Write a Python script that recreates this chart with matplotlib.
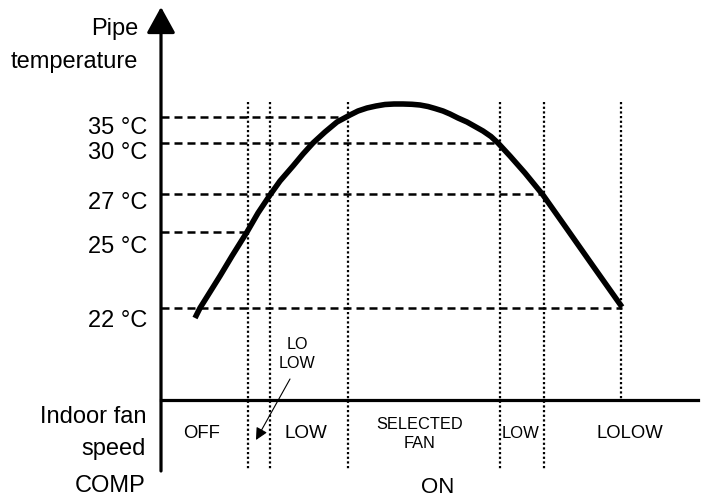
import matplotlib
matplotlib.use("Agg")
import matplotlib.pyplot as plt

# diagram units: x across the page, y down the page (pixel-like schematic)
temp_labels = ['22 °C', '25 °C', '27 °C', '30 °C', '35 °C']
temp_rows = [309, 233, 195, 144, 118]
temp_ends = [622, 247, 543, 498, 346]

# pipe temperature curve
curve_x = [195, 200, 210, 220, 232, 247, 258, 270, 280, 293, 303, 313, 325, 337, 350,
           358, 367, 376, 385, 394, 403, 412, 420, 428, 435, 443, 450, 458, 467, 475,
           483, 491, 498, 510, 525, 543, 567, 593, 622]
curve_y = [319, 309, 293, 277, 257, 233, 214, 196, 182, 167, 155, 144, 133, 123, 116,
           112, 109, 107, 105.5, 105, 105, 105.3, 106, 107.5, 109.5, 112, 115, 119, 123, 127.5,
           132, 137.5, 144, 157, 174, 196, 230, 267, 308]

# fan speed switch points
switch_x = [248, 270, 348, 500, 544, 621]
switch_in_box = [True, True, True, True, True, False]

fan_labels = ['OFF', 'LOW', 'SELECTED\nFAN', 'LOW', 'LOLOW']
fan_label_x = [202, 306, 420, 521, 630]
fan_label_size = [13.3, 13.6, 11.8, 12, 13.3]

X0, X_END = 161, 709
Y_TOP, Y_BOX, Y_BASE = 8, 401, 471

plt.rcParams['font.family'] = ['Liberation Sans', 'DejaVu Sans']

fig = plt.figure(figsize=(7.09, 5.02), dpi=100)
ax = fig.add_axes([0, 0, 1, 1])
ax.set_xlim(0, 709)
ax.set_ylim(502, 0)
ax.axis('off')

# dashed temperature levels
for row, end in zip(temp_rows, temp_ends):
    ax.plot([X0, end], [row, row], color='black', lw=1.8, linestyle=(0, (3.2, 2.0)))

# dotted switch lines
for sx, inbox in zip(switch_x, switch_in_box):
    bottom = Y_BASE if inbox else Y_BOX
    ax.plot([sx, sx], [103, bottom], color='black', lw=1.6, linestyle=(0, (1, 1.1)))

# curve
ax.plot(curve_x, curve_y, color='black', lw=4, solid_capstyle='butt',
        solid_joinstyle='round')

# box top line
ax.plot([X0, 698], [Y_BOX, Y_BOX], color='black', lw=2.3)

# axes with arrows
ax.annotate('', xy=(X0, Y_TOP), xytext=(X0, Y_BASE + 1),
            arrowprops=dict(arrowstyle='-|>,head_length=0.4,head_width=0.22',
                            mutation_scale=40, lw=2.3, color='black',
                            shrinkA=0, shrinkB=0))
ax.annotate('', xy=(X_END + 1, Y_BASE), xytext=(X0 - 1, Y_BASE),
            arrowprops=dict(arrowstyle='-|>,head_length=0.4,head_width=0.2',
                            mutation_scale=40, lw=2.3, color='black',
                            shrinkA=0, shrinkB=0))

# temperature labels
label_offsets = [12, 14, 8, 9, 10]
for lab, row, off in zip(temp_labels, temp_rows, label_offsets):
    ax.text(147, row + off, lab, ha='right', va='center', fontsize=17)

ax.text(138, 29, 'Pipe', ha='right', va='center', fontsize=17)
ax.text(138, 62, 'temperature', ha='right', va='center', fontsize=17)
ax.text(146, 417, 'Indoor fan', ha='right', va='center', fontsize=17)
ax.text(146, 449, 'speed', ha='right', va='center', fontsize=17)
ax.text(146, 486, 'COMP', ha='right', va='center', fontsize=17)
ax.text(438, 488, 'ON', ha='center', va='center', fontsize=16)

for lab, lx, fs in zip(fan_labels, fan_label_x, fan_label_size):
    ax.text(lx, 434, lab, ha='center', va='center', fontsize=fs, linespacing=1.3)

ax.text(297, 354, 'LO\nLOW', ha='center', va='center', fontsize=11.6, linespacing=1.3)
ax.annotate('', xy=(256, 441), xytext=(290, 380),
            arrowprops=dict(arrowstyle='-|>,head_length=0.6,head_width=0.3',
                            mutation_scale=12, lw=0.8, color='black',
                            shrinkA=0, shrinkB=0))

fig.savefig('out.png', dpi=100)
